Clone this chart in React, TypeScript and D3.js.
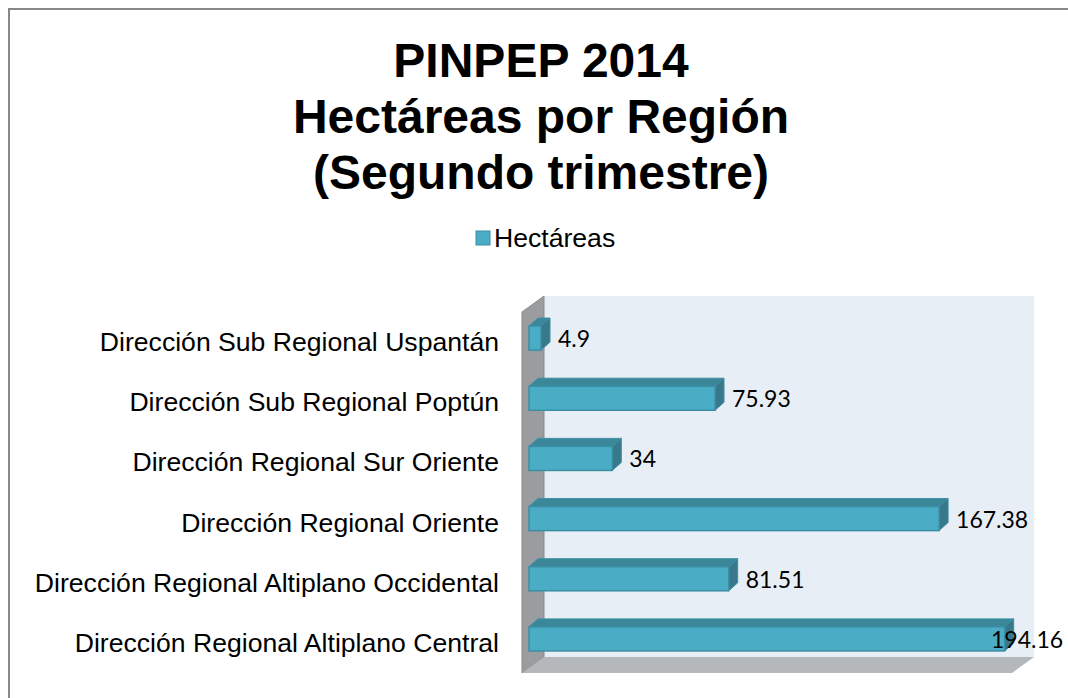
import React from "react";
import * as d3 from "d3";

const categories = [
  "Dirección Sub Regional Uspantán",
  "Dirección Sub Regional Poptún",
  "Dirección Regional Sur Oriente",
  "Dirección Regional Oriente",
  "Dirección Regional Altiplano Occidental",
  "Dirección Regional Altiplano Central",
];
const hectareas = [4.9, 75.93, 34, 167.38, 81.51, 194.16];
const valueLabels = ["4.9", "75.93", "34", "167.38", "81.51", "194.16"];
const titleLines = ["PINPEP 2014", "Hectáreas por Región", "(Segundo trimestre)"];
const seriesName = "Hectáreas";

const W = 1068;
const H = 698;

export default function App() {
  // front plane of the 3D plot
  const x0 = 522;
  const x1 = 1012;
  const yTop = 312;
  const yBot = 673;
  const depth = { dx: 22, dy: -16 };

  const x = d3.scaleLinear().domain([0, 200]).range([x0, x1]);
  const y = d3
    .scaleBand<string>()
    .domain(categories)
    .range([yTop, yBot])
    .paddingInner(0.6)
    .paddingOuter(0.3);

  const barOff = { dx: 7, dy: -4 };
  const barDepth = { dx: 9, dy: -8 };

  const leftWall = [
    [x0, yTop],
    [x0 + depth.dx, yTop + depth.dy],
    [x0 + depth.dx, yBot + depth.dy],
    [x0, yBot],
  ];
  const floor = [
    [x0, yBot],
    [x0 + depth.dx, yBot + depth.dy],
    [x1 + depth.dx, yBot + depth.dy],
    [x1, yBot],
  ];
  const pts = (p: number[][]) => p.map((q) => q.join(",")).join(" ");

  const front = "#4BACC6";
  const topC = "#3B8799";
  const sideC = "#37788A";
  const edge = "#3A8FA5";

  return (
    <svg
      width={W}
      height={H}
      style={{ position: "absolute", left: 0, top: 0, background: "#fff" }}
    >
      <rect x={0} y={0} width={W} height={H} fill="#fff" />
      <rect x={9} y={9} width={W + 10} height={H + 10} fill="none" stroke="#888" strokeWidth={2} />

      {titleLines.map((t, i) => (
        <text
          key={i}
          x={541}
          y={77 + i * 56}
          textAnchor="middle"
          fontFamily="'Liberation Sans', Arial, sans-serif"
          fontWeight="bold"
          fontSize={48}
          fill="#000"
        >
          {t}
        </text>
      ))}

      {/* legend */}
      <rect x={476} y={231} width={14} height={14} fill={front} stroke={edge} strokeWidth={1} />
      <text
        x={494}
        y={247}
        fontFamily="'Liberation Sans', Arial, sans-serif"
        fontSize={26.6}
        fill="#000"
      >
        {seriesName}
      </text>

      {/* walls */}
      <rect
        x={x0 + depth.dx}
        y={yTop + depth.dy}
        width={x1 - x0}
        height={yBot - yTop}
        fill="#E8EEF5"
      />
      <polygon points={pts(leftWall)} fill="#9B9C9F" stroke="#8A8B8E" strokeWidth={1} />
      <polygon points={pts(floor)} fill="#B5B8BB" />

      {/* bars */}
      {categories.map((c, i) => {
        const v = hectareas[i];
        const fx0 = x(0) + barOff.dx;
        const fx1 = x(v) + barOff.dx;
        const fy0 = (y(c) as number) + barOff.dy;
        const bh = y.bandwidth();
        const fy1 = fy0 + bh;
        const topFace = [
          [fx0, fy0],
          [fx0 + barDepth.dx, fy0 + barDepth.dy],
          [fx1 + barDepth.dx, fy0 + barDepth.dy],
          [fx1, fy0],
        ];
        const sideFace = [
          [fx1, fy0],
          [fx1 + barDepth.dx, fy0 + barDepth.dy],
          [fx1 + barDepth.dx, fy1 + barDepth.dy],
          [fx1, fy1],
        ];
        const label = valueLabels[i];
        const estW = label.length * 12;
        let lx = fx1 + barDepth.dx + 8;
        if (lx + estW > 1063) lx = 1063 - estW;
        return (
          <g key={c}>
            <polygon points={pts(topFace)} fill={topC} stroke={edge} strokeWidth={1} />
            <polygon points={pts(sideFace)} fill={sideC} stroke={edge} strokeWidth={1} />
            <rect
              x={fx0}
              y={fy0}
              width={fx1 - fx0}
              height={bh}
              fill={front}
              stroke={edge}
              strokeWidth={1.5}
            />
            <text
              x={lx}
              y={fy0 + bh / 2}
              dominantBaseline="central"
              fontFamily="Lato, 'Open Sans', sans-serif"
              fontSize={23}
              fill="#000"
            >
              {label}
            </text>
          </g>
        );
      })}

      {/* category labels */}
      {categories.map((c) => (
        <text
          key={c}
          x={499}
          y={(y(c) as number) + y.bandwidth() / 2}
          textAnchor="end"
          dominantBaseline="central"
          fontFamily="'Liberation Sans', Arial, sans-serif"
          fontSize={26.6}
          fill="#000"
        >
          {c}
        </text>
      ))}
    </svg>
  );
}
